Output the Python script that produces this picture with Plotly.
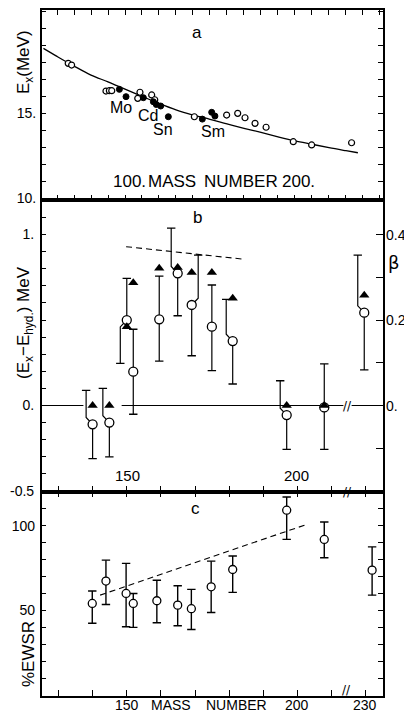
import plotly.graph_objects as go

# ---------------- Panel a data ----------------
a_open_mass = [66.6, 68.6, 88.8, 90.8, 92.2, 108.8, 107.5, 115.7, 117.5, 140.8,
               159.8, 166.3, 170.6, 176.5, 183.0, 199.0, 209.8, 233.3]
a_open_ex = [17.94, 17.84, 16.31, 16.33, 16.33, 16.24, 15.88, 16.08, 15.80, 14.80,
             14.90, 15.00, 14.74, 14.41, 14.18, 13.33, 13.14, 13.27]
a_full_mass = [96.7, 100.6, 110.8, 116.7, 118.4, 121.0, 125.5, 145.5, 151.0, 152.9]
a_full_ex = [16.41, 15.98, 15.92, 15.68, 15.52, 15.43, 14.80, 14.66, 15.06, 14.84]
a_curve_mass = [52, 60, 70, 80, 90, 100, 110, 120, 130, 140, 150, 160, 170, 180,
                190, 200, 210, 220, 230, 237]
a_curve_ex = [18.82, 18.35, 17.78, 17.25, 16.85, 16.42, 16.0, 15.58, 15.2, 14.9,
              14.65, 14.38, 14.12, 13.88, 13.62, 13.38, 13.18, 12.98, 12.8, 12.68]
a_labels = ["Mo", "Cd", "Sn", "Sm"]
a_label_mass = [97.6, 113.7, 122.1, 151.5]
a_label_ex = [15.32, 14.85, 14.07, 13.94]

# ---------------- Panel b data ----------------
b_mass = [140.0, 144.9, 150.0, 151.9, 159.5, 164.9, 169.0, 174.9, 181.0, 196.8, 207.8, 229.5]
b_de = [-0.11, -0.10, 0.50, 0.198, 0.504, 0.773, 0.588, 0.461, 0.377, -0.056, -0.011, 0.543]
b_hi = [0.089, 0.10, 0.744, 0.446, 0.757, 1.038, 0.88, 0.705, 0.621, 0.145, 0.243, 0.88]
b_lo = [-0.311, -0.30, 0.247, -0.051, 0.26, 0.525, 0.291, 0.204, 0.126, -0.256, -0.256, 0.208]
b_beta = [0.0, 0.0, 0.184, 0.287, 0.321, 0.323, 0.311, 0.311, 0.251, 0.0, 0.0, 0.258]
b_dash_mass = [149.8, 184.6]
b_dash_de = [0.929, 0.855]
# style: which error-bar halves are drawn displaced sideways (-1 left, +1 right)
b_off_hi = [-1, -1, 0, 0, 0, -1, 1, 0, -1, -1, 0, -1]
b_off_lo = [0, 0, -1, 0, 0, 0, 0, 0, 0, 0, 0, 0]

# ---------------- Panel c data ----------------
c_mass = [139.9, 143.9, 149.8, 151.9, 158.8, 164.9, 168.9, 174.7, 181.0, 196.8, 207.8, 231.8]
c_ewsr = [54.2, 67.4, 60.1, 54.2, 55.8, 53.2, 51.1, 64.0, 74.2, 109.1, 91.9, 73.8]
c_hi = [61.5, 79.7, 77.8, 60.1, 67.9, 64.6, 62.5, 79.1, 82.1, 116.9, 102.2, 87.5]
c_lo = [42.5, 53.6, 40.5, 40.1, 42.8, 41.1, 38.9, 48.9, 60.7, 91.9, 81.1, 59.1]
c_dash_mass = [142.2, 202.6]
c_dash_ewsr = [59.1, 100.7]

# tick values
bc_ticks_mass = [130, 140, 150, 160, 170, 180, 190, 200, 210, 230]
beta_ticks = [-0.1, 0.0, 0.1, 0.2, 0.3, 0.4]
beta_labels = {0.0: "0.", 0.2: "0.2", 0.4: "0.4"}

# broken mass axis (b, c): masses above BREAK_REAL are shifted left by BREAK_GAP
BREAK_REAL = 215.0
BREAK_GAP = 10.0
BREAK_DISP = 214.4
BETA_PER_MEV = 0.4


def disp(a):
    return a - BREAK_GAP if a > BREAK_REAL else a


FONT = "Liberation Sans"
BLACK = "black"
W, H = 404, 715
XL, XR = 41.7, 382.7
YA_T, YA_B = 10.0, 200.0
YB_B = 491.7
YC_B = 695.5
B_RANGE = [-0.504, 1.202]


def py(p):
    return 1 - p / H


def px(p):
    return p / W


fig = go.Figure()

# ---------- panel a ----------
fig.add_trace(go.Scatter(x=a_curve_mass, y=a_curve_ex, mode="lines",
                         line=dict(color=BLACK, width=1.3, shape="spline"),
                         xaxis="x", yaxis="y", hoverinfo="skip"))
fig.add_trace(go.Scatter(x=a_open_mass, y=a_open_ex, mode="markers",
                         marker=dict(symbol="circle", size=6, color="white",
                                     line=dict(color=BLACK, width=1.2)),
                         xaxis="x", yaxis="y"))
fig.add_trace(go.Scatter(x=a_full_mass, y=a_full_ex, mode="markers",
                         marker=dict(symbol="circle", size=6, color=BLACK,
                                     line=dict(color=BLACK, width=1)),
                         xaxis="x", yaxis="y"))


# ---------- error bar helper ----------
def bars(xs, ys, hi, lo, off_hi, off_lo, dx, kink):
    lx, ly, cx, cy = [], [], [], []
    for i in range(len(xs)):
        x, y = xs[i], ys[i]
        if off_hi[i]:
            xo = x + off_hi[i] * dx
            lx += [x, xo, xo, None]
            ly += [y, y + kink, hi[i], None]
        else:
            xo = x
            lx += [x, x, None]
            ly += [y, hi[i], None]
        cx.append(xo)
        cy.append(hi[i])
        if off_lo[i]:
            xo = x + off_lo[i] * dx
            lx += [x, xo, xo, None]
            ly += [y, y - kink, lo[i], None]
        else:
            xo = x
            lx += [x, x, None]
            ly += [y, lo[i], None]
        cx.append(xo)
        cy.append(lo[i])
    return lx, ly, cx, cy


# ---------- panel b ----------
bx = [disp(m) for m in b_mass]
zero_x = [125.1, 137.3, None, 148.5, 213.4, None, 215.8, 224.9]
zero_y = [0, 0, None, 0, 0, None, 0, 0]
fig.add_trace(go.Scatter(x=zero_x, y=zero_y, mode="lines",
                         line=dict(color=BLACK, width=1.1),
                         xaxis="x2", yaxis="y2", hoverinfo="skip"))
fig.add_trace(go.Scatter(x=b_dash_mass, y=b_dash_de, mode="lines",
                         line=dict(color=BLACK, width=1.1, dash="6px,4px"),
                         xaxis="x2", yaxis="y2", hoverinfo="skip"))
lx, ly, cx, cy = bars(bx, b_de, b_hi, b_lo, b_off_hi, b_off_lo, 1.9, 0.04)
fig.add_trace(go.Scatter(x=lx, y=ly, mode="lines", line=dict(color=BLACK, width=1.2),
                         xaxis="x2", yaxis="y2", hoverinfo="skip"))
fig.add_trace(go.Scatter(x=cx, y=cy, mode="markers",
                         marker=dict(symbol="line-ew", size=6,
                                     line=dict(color=BLACK, width=1.3)),
                         xaxis="x2", yaxis="y2", hoverinfo="skip"))
fig.add_trace(go.Scatter(x=bx, y=b_beta, mode="markers",
                         marker=dict(symbol="triangle-up", size=9, color=BLACK),
                         xaxis="x2", yaxis="y3"))
fig.add_trace(go.Scatter(x=bx, y=b_de, mode="markers",
                         marker=dict(symbol="circle", size=9, color="white",
                                     line=dict(color=BLACK, width=1.3)),
                         xaxis="x2", yaxis="y2"))

# ---------- panel c ----------
cxd = [disp(m) for m in c_mass]
fig.add_trace(go.Scatter(x=c_dash_mass, y=c_dash_ewsr, mode="lines",
                         line=dict(color=BLACK, width=1.1, dash="6px,4px"),
                         xaxis="x3", yaxis="y4", hoverinfo="skip"))
zeros = [0] * len(c_mass)
lx, ly, kx, ky = bars(cxd, c_ewsr, c_hi, c_lo, zeros, zeros, 0, 0)
fig.add_trace(go.Scatter(x=lx, y=ly, mode="lines", line=dict(color=BLACK, width=1.4),
                         xaxis="x3", yaxis="y4", hoverinfo="skip"))
fig.add_trace(go.Scatter(x=kx, y=ky, mode="markers",
                         marker=dict(symbol="line-ew", size=6,
                                     line=dict(color=BLACK, width=1.4)),
                         xaxis="x3", yaxis="y4", hoverinfo="skip"))
fig.add_trace(go.Scatter(x=cxd, y=c_ewsr, mode="markers",
                         marker=dict(symbol="circle", size=8, color="white",
                                     line=dict(color=BLACK, width=1.3)),
                         xaxis="x3", yaxis="y4"))

# ---------- axes ----------
common = dict(showline=True, linecolor=BLACK, linewidth=1.5, ticks="inside",
              tickcolor=BLACK, tickwidth=1.2, ticklen=5, showgrid=False,
              zeroline=False, automargin=False,
              tickfont=dict(family=FONT, size=14, color=BLACK))
xdom = [px(XL), px(XR)]

a_yt = list(range(10, 22))
a_ytt = [{10: "10.", 15: "15."}.get(v, " ") for v in a_yt]
b_yt = [round(-0.5 + 0.1 * i, 1) for i in range(18)]
b_ytt = [{-0.5: "-0.5", 0.0: "0.", 1.0: "1."}.get(v, " ") for v in b_yt]
c_yt = list(range(10, 120, 10))
c_ytt = [{50: "50", 100: "100"}.get(v, " ") for v in c_yt]
bc_tv = [disp(m) for m in bc_ticks_mass]

fig.update_layout(
    width=W, height=H, margin=dict(l=0, r=0, t=0, b=0),
    paper_bgcolor="white", plot_bgcolor="white", showlegend=False,
    template="none",
    xaxis=dict(common, domain=xdom, range=[51, 251.6], anchor="y",
               tickvals=list(range(60, 251, 10)), showticklabels=False, mirror="ticks"),
    yaxis=dict(common, domain=[py(YA_B), py(YA_T)], range=[9.9, 21.08], anchor="x",
               tickvals=a_yt, ticktext=a_ytt, mirror="ticks", ticklabelstandoff=1),
    xaxis2=dict(common, domain=xdom, range=[125.1, 224.9], anchor="y2",
                tickvals=bc_tv, showticklabels=False, mirror=True, ticklen=6),
    yaxis2=dict(common, domain=[py(YB_B), py(YA_B)], range=B_RANGE, anchor="x2",
                tickvals=b_yt, ticktext=b_ytt, mirror=False, ticklabelstandoff=3),
    yaxis3=dict(common, overlaying="y2", side="right", anchor="x2",
                range=[B_RANGE[0] * BETA_PER_MEV, B_RANGE[1] * BETA_PER_MEV],
                tickvals=beta_ticks, showticklabels=False, ticklen=7),
    xaxis3=dict(common, domain=xdom, range=[125.1, 224.9], anchor="y4",
                tickvals=bc_tv, showticklabels=False, mirror="ticks", ticklen=6),
    yaxis4=dict(common, domain=[py(YC_B), py(YB_B)], range=[0, 120], anchor="x3",
                tickvals=c_yt, ticktext=c_ytt, mirror="ticks", ticklabelstandoff=2),
)

# thick panel border between a and b
fig.add_shape(type="line", xref="paper", yref="paper", x0=xdom[0], x1=xdom[1],
              y0=py(YA_B), y1=py(YA_B), line=dict(color=BLACK, width=2.6))

ann = []


def A(text, x, y, xref, yref, size=15, angle=0, family=FONT, xanchor="center"):
    ann.append(dict(text=text, x=x, y=y, xref=xref, yref=yref, showarrow=False,
                    xanchor=xanchor, yanchor="middle", textangle=angle,
                    font=dict(family=family, size=size, color=BLACK)))


# panel a texts
A("a", 142.4, 19.78, "x", "y", 17)
for t, m, e in zip(a_labels, a_label_mass, a_label_ex):
    A(t, m, e, "x", "y", 16)
A("100.", 102.4, 10.96, "x", "y", 17)
A("MASS", 127.6, 10.96, "x", "y", 17)
A("NUMBER", 168.2, 10.96, "x", "y", 17)
A("200.", 201.8, 10.96, "x", "y", 17)
A("E<sub>x</sub>(MeV)", px(25), py(62), "paper", "paper", 17, -90)

# panel b texts
A("b", 170.6, 1.10, "x2", "y2", 17)
A("150", 150.1, -0.412, "x2", "y2", 15)
A("200", 199.8, -0.412, "x2", "y2", 15)
A("(E<sub>x</sub>−E<sub>hyd.</sub>) MeV", px(25), py(323), "paper", "paper", 17, -90)
A("β", px(394), py(262), "paper", "paper", 18, 0, "DejaVu Sans")
for v, t in beta_labels.items():
    ann.append(dict(text=t, x=px(384), y=v, xref="paper", yref="y3", showarrow=False,
                    xanchor="left", yanchor="middle",
                    font=dict(family=FONT, size=14, color=BLACK)))
A("//", BREAK_DISP + 0.3, 0.0, "x2", "y2", 12, 0, "DejaVu Sans")
A("//", BREAK_DISP + 0.3, B_RANGE[0], "x2", "y2", 12, 0, "DejaVu Sans")
A("//", BREAK_DISP, 3, "x3", "y4", 12, 0, "DejaVu Sans")

# panel c texts
A("c", 170.0, 110.3, "x3", "y4", 17)
A("%EWSR", px(28), py(654), "paper", "paper", 17, -90)
A("150", px(127), py(705), "paper", "paper", 14)
A("MASS", px(170.8), py(705), "paper", "paper", 14)
A("NUMBER", px(236.7), py(705), "paper", "paper", 14)
A("200", px(296.7), py(705), "paper", "paper", 14)
A("230", px(365), py(705), "paper", "paper", 14)

fig.update_layout(annotations=ann)
fig.write_html("out.html", config={"displayModeBar": False},
               post_script="document.body.style.margin='0';document.body.style.overflow='hidden';")
